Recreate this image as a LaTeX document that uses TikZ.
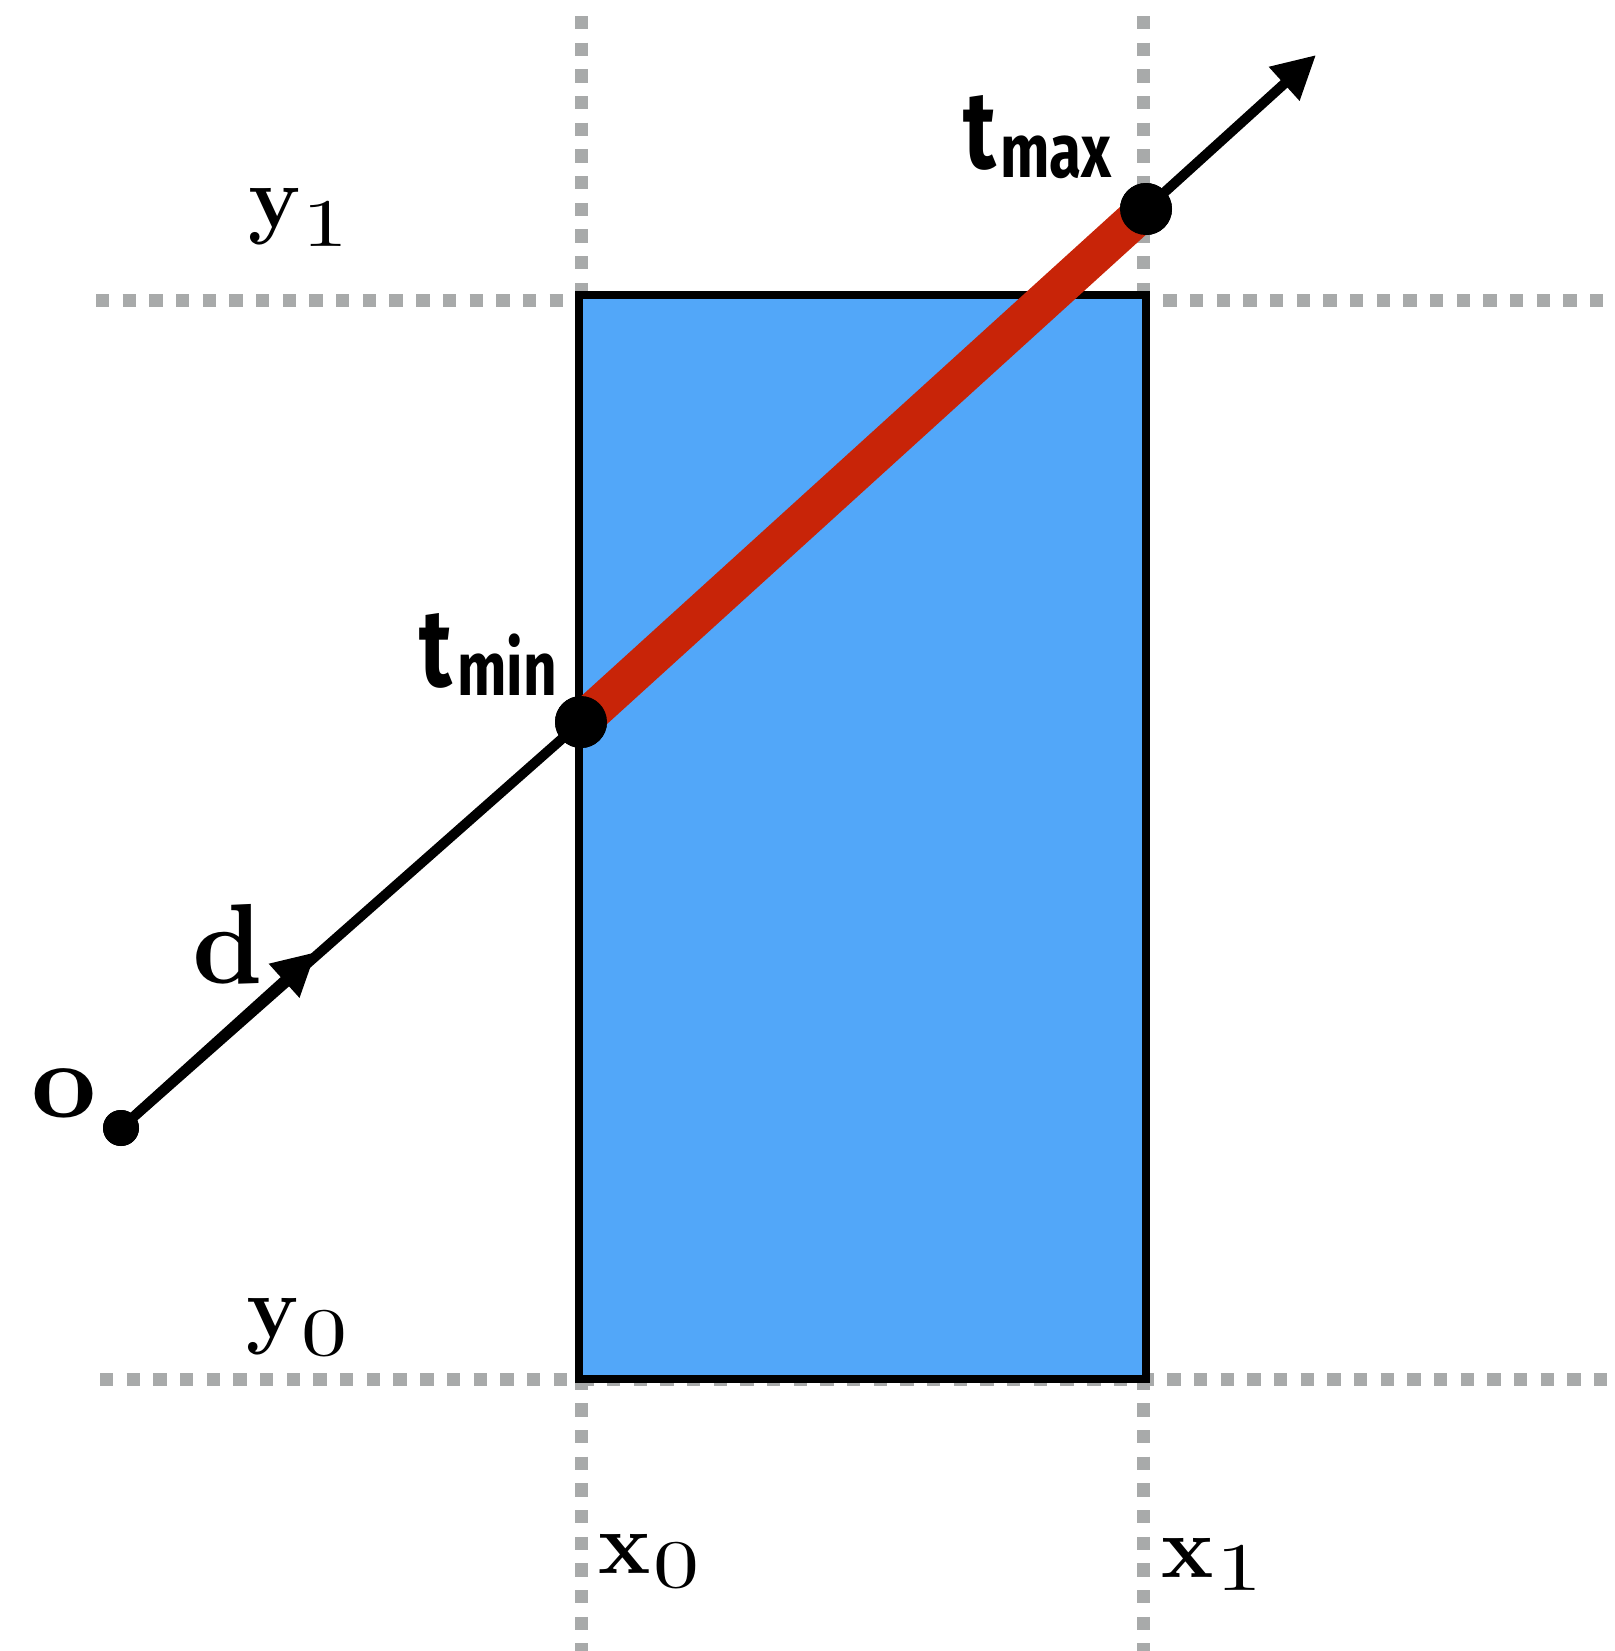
\documentclass[tikz,border=0pt]{standalone}
\usepackage{fontspec}
\usetikzlibrary{arrows.meta}
\newfontfamily\tfont[FakeStretch=0.77]{Fira Sans}
\newfontfamily\digitfont[FakeStretch=1.35]{lmroman10-regular.otf}
\newfontfamily\odfont{lmroman10-bold.otf}
\definecolor{boxblue}{RGB}{82,167,249}
\definecolor{segred}{RGB}{200,36,8}
\definecolor{guidegray}{RGB}{168,170,170}
\begin{document}
\begin{tikzpicture}[x=0.5pt,y=-0.5pt,
  guide/.style={guidegray,line width=6.5pt,dash pattern=on 6.67pt off 6.67pt},
  boxstyle/.style={fill=boxblue,draw=black,line width=4pt},
  ray/.style={black,line width=5pt},
  seg/.style={segred,line width=19pt},
  bigdot/.style={circle,fill=black,inner sep=0pt,minimum size=26pt},
  smalldot/.style={circle,fill=black,inner sep=0pt,minimum size=18pt},
  tipend/.style={-{Triangle[length=21.5pt,width=21.5pt]}},
  mainlbl/.style={anchor=base west,inner sep=0pt,font=\fontsize{44}{44}\selectfont\bfseries},
  sublbl/.style={anchor=base west,inner sep=0pt,font=\digitfont\fontsize{34}{34}\selectfont},
  olblstyle/.style={anchor=base west,inner sep=0pt,font=\odfont\fontsize{54}{54}\selectfont},
  dlblstyle/.style={anchor=base west,inner sep=0pt,font=\odfont\fontsize{57}{57}\selectfont},
  tmain/.style={anchor=base west,inner sep=0pt,font=\tfont\bfseries\fontsize{55}{55}\selectfont},
  tsub/.style={anchor=base west,inner sep=0pt,font=\tfont\bfseries\fontsize{38}{38}\selectfont}
]
\useasboundingbox (0,0) rectangle (1614,1651);
% guide lines
\draw[guide] (581,16) -- (581,1651);
\draw[guide] (1143,16) -- (1143,1651);
\draw[guide] (96,300) -- (1614,300);
\draw[guide] (100,1379) -- (1614,1379);
% box
\draw[boxstyle] (579,295) rectangle (1146,1379);
% points
\node[smalldot] (o) at (121,1128) {};
\node[bigdot] (tmin) at (581,722) {};
\node[bigdot] (tmax) at (1146,209) {};
\coordinate (dtip) at (316,952);
\coordinate (rayend) at (1316,55);
% ray
\draw[ray] (o.center) -- (tmin.center);
\draw[ray,tipend] (o.center) -- (dtip);
\draw[seg] (tmin.center) -- (tmax.center);
\draw[ray,tipend] (tmax.center) -- (rayend);
\node[smalldot] at (o) {};
\node[bigdot] at (tmin) {};
\node[bigdot] at (tmax) {};
% labels
\node[mainlbl] (y1m) at (248,227) {y};
\node[sublbl] (y1s) at (302,246) {1};
\node[mainlbl] (y0m) at (246,1337) {y};
\node[sublbl] (y0s) at (301,1355) {0};
\node[mainlbl] (x0m) at (598,1573) {x};
\node[sublbl] (x0s) at (653,1587) {0};
\node[mainlbl] (x1m) at (1161,1577) {x};
\node[sublbl] (x1s) at (1216,1590) {1};
\node[olblstyle] (olbl) at (31,1117) {\scalebox{1.05}[1]{o}};
\node[dlblstyle] (dlbl) at (192,983) {\scalebox{0.97}[1]{d}};
\node[tmain] (tminT) at (419,686) {t};
\node[tsub] (tminS) at (457,695) {min};
\node[tmain] (tmaxT) at (963,168) {t};
\node[tsub] (tmaxS) at (1000,177) {max};
\end{tikzpicture}
\end{document}
